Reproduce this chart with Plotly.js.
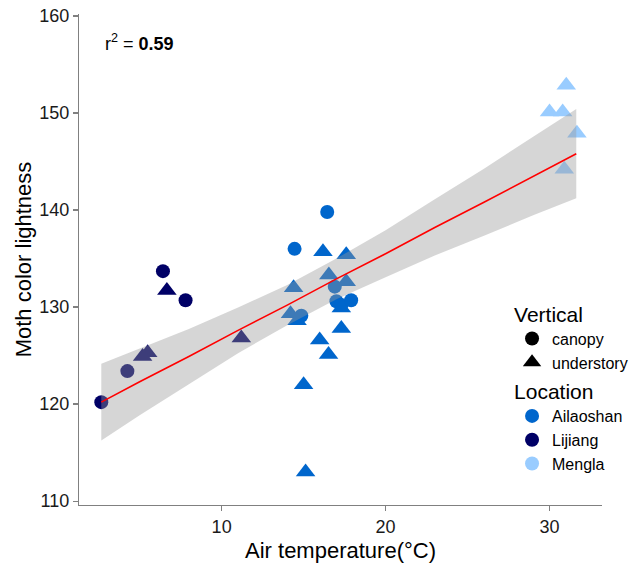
<!DOCTYPE html>
<html>
<head>
<meta charset="utf-8">
<script src="https://cdn.plot.ly/plotly-3.0.1.min.js"></script>
<style>html,body{margin:0;padding:0;background:#fff}#chart{width:629px;height:573px}</style>
</head>
<body>
<div id="chart"></div>
<script>
// Lijiang
const lijCanopyX = [2.66, 4.25, 6.42, 7.80];
const lijCanopyY = [120.2, 123.4, 133.7, 130.7];
const lijUnderX = [5.18, 5.49, 6.66, 11.2];
const lijUnderY = [124.9, 125.3, 131.7, 126.8];
// Ailaoshan
const ailCanopyX = [16.44, 14.45, 16.9, 17.0, 17.3, 17.9, 14.86];
const ailCanopyY = [139.8, 136.0, 132.1, 130.6, 130.2, 130.7, 129.1];
const ailUnderX = [16.18, 17.6, 16.54, 17.6, 14.39, 17.3, 14.2, 14.6, 17.3, 15.98, 16.52, 15.0, 15.12];
const ailUnderY = [135.7, 135.4, 133.3, 132.6, 132.0, 129.9, 129.3, 128.6, 127.8, 126.6, 125.1, 122.0, 113.0];
// Mengla
const menUnderX = [31.02, 30.0, 30.8, 31.67, 30.9];
const menUnderY = [152.85, 150.1, 150.1, 147.9, 144.2];
// Fitted line and confidence band
const fitX  = [2.66, 5, 8, 11, 14, 17, 20, 23, 26, 29, 31.63];
const fitY  = [120.2, 122.3, 124.9, 127.6, 130.2, 132.9, 135.5, 138.2, 140.8, 143.5, 145.8];
const fitLo = [116.25, 118.85, 122.05, 125.25, 128.12, 130.8, 133.08, 135.3, 137.35, 139.45, 141.2];
const fitHi = [124.15, 125.75, 127.75, 129.95, 132.28, 135.0, 137.92, 141.1, 144.25, 147.55, 150.4];
// Legend labels
const verticalLabels = ['canopy', 'understory'];
const locationLabels = ['Ailaoshan', 'Lijiang', 'Mengla'];
const locationColors = ['#0066CC', '#000066', '#99CCFF'];
const xTicks = [10, 20, 30];
const yTicks = [110, 120, 130, 140, 150, 160];

const FONT = 'Liberation Sans, Arial, sans-serif';
const CS = 14, TS = 17;
function pts(x, y, sym, col) {
  return {x: x, y: y, type: 'scatter', mode: 'markers', showlegend: false, hoverinfo: 'skip',
    marker: {symbol: sym, color: col, size: sym === 'circle' ? CS : TS, line: {width: 0}}};
}
const bandX = fitX.concat(fitX.slice().reverse());
const bandY = fitHi.concat(fitLo.slice().reverse());
const traces = [
  pts(lijCanopyX, lijCanopyY, 'circle', locationColors[1]),
  pts(lijUnderX, lijUnderY, 'triangle-up', locationColors[1]),
  pts(ailCanopyX, ailCanopyY, 'circle', locationColors[0]),
  pts(ailUnderX, ailUnderY, 'triangle-up', locationColors[0]),
  pts(menUnderX, menUnderY, 'triangle-up', locationColors[2]),
  {x: bandX, y: bandY, type: 'scatter', mode: 'lines', fill: 'toself', fillcolor: 'rgba(153,153,153,0.4)',
   line: {width: 0}, showlegend: false, hoverinfo: 'skip'},
  {x: fitX, y: fitY, type: 'scatter', mode: 'lines', line: {color: '#FF0000', width: 1.6}, showlegend: false, hoverinfo: 'skip'},
  // legend entries
  {x: [null], y: [null], type: 'scatter', mode: 'markers', name: verticalLabels[0], legend: 'legend',
   marker: {symbol: 'circle', color: '#000', size: 14}},
  {x: [null], y: [null], type: 'scatter', mode: 'markers', name: verticalLabels[1], legend: 'legend',
   marker: {symbol: 'triangle-up', color: '#000', size: 16}},
];
locationLabels.forEach((n, i) => traces.push({x: [null], y: [null], type: 'scatter', mode: 'markers', name: n,
  legend: 'legend2', marker: {symbol: 'circle', color: locationColors[i], size: 14}}));

const axisCommon = {showgrid: false, zeroline: false, showline: true, linecolor: '#808080', linewidth: 1.2,
  ticks: 'outside', ticklen: 5, tickcolor: '#808080', tickwidth: 1.2,
  tickfont: {family: FONT, size: 18, color: '#1a1a1a'}, mirror: false};
const legendCommon = {xanchor: 'left', yanchor: 'top', bgcolor: 'rgba(0,0,0,0)', borderwidth: 0,
  font: {family: FONT, size: 16, color: '#000'}, itemwidth: 30, tracegroupgap: 0};
const layout = {
  width: 629, height: 573,
  margin: {l: 79, r: 27, t: 14, b: 68, autoexpand: false},
  paper_bgcolor: '#fff', plot_bgcolor: '#fff',
  font: {family: FONT, color: '#000'},
  xaxis: Object.assign({}, axisCommon, {range: [1.3, 33.2], tickvals: xTicks,
    title: {text: 'Air temperature(°C)', font: {family: FONT, size: 22, color: '#000'}, standoff: 6}}),
  yaxis: Object.assign({}, axisCommon, {range: [109.6, 160.2], tickvals: yTicks,
    title: {text: 'Moth color lightness', font: {family: FONT, size: 22, color: '#000'}, standoff: 1}}),
  legend: Object.assign({}, legendCommon, {x: 0.828, y: 0.429,
    title: {text: 'Vertical', font: {family: FONT, size: 21, color: '#000'}}}),
  legend2: Object.assign({}, legendCommon, {x: 0.828, y: 0.2715,
    title: {text: 'Location', font: {family: FONT, size: 21, color: '#000'}}}),
  annotations: [{xref: 'paper', yref: 'paper', x: 0.046, y: 0.941, xanchor: 'left', yanchor: 'middle',
    showarrow: false, text: 'r<sup>2</sup> = <b>0.59</b>', font: {family: FONT, size: 18, color: '#000'}}],
  showlegend: true
};
Plotly.newPlot('chart', traces, layout, {staticPlot: true, displayModeBar: false});
</script>
</body>
</html>
